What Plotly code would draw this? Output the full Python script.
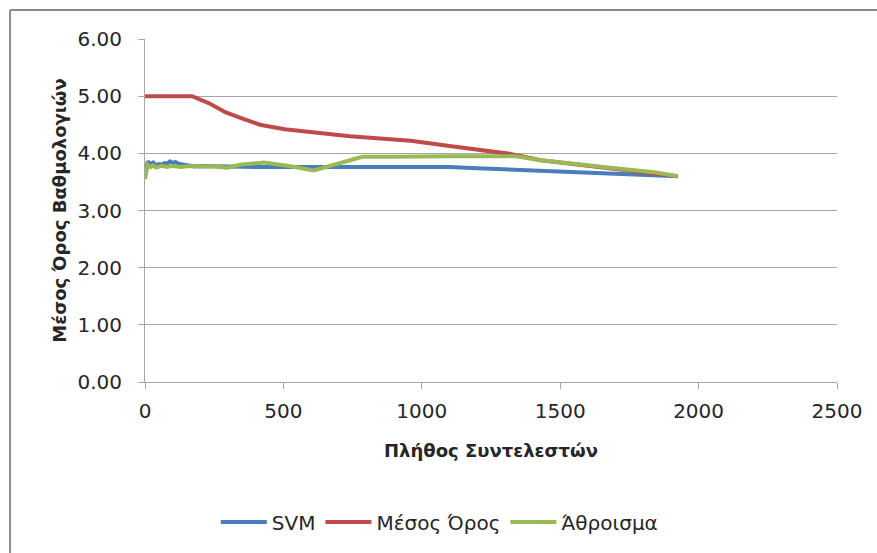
import plotly.graph_objects as go

# Number of coefficients (x) and mean score (y) for each method
svm_x = [0, 5, 10, 20, 30, 40, 50, 60, 70, 80, 90, 100, 110, 120, 140, 160, 180, 200,
         250, 300, 400, 500, 600, 700, 800, 900, 1000, 1100, 1200, 1300, 1400, 1500,
         1600, 1700, 1800, 1850, 1925]
svm_y = [3.62, 3.80, 3.86, 3.81, 3.84, 3.79, 3.81, 3.80, 3.83, 3.82, 3.86, 3.83, 3.85,
         3.82, 3.80, 3.79, 3.77, 3.78, 3.77, 3.77, 3.76, 3.76, 3.76, 3.75, 3.75, 3.75,
         3.76, 3.76, 3.74, 3.72, 3.71, 3.69, 3.66, 3.64, 3.62, 3.61, 3.60]

mean_x = [0, 170, 230, 290, 345, 415, 505, 630, 740, 850, 960, 1100, 1210, 1320,
          1430, 1570, 1715, 1840, 1925]
mean_y = [5.00, 5.00, 4.88, 4.72, 4.62, 4.50, 4.42, 4.35, 4.30, 4.26, 4.22, 4.13,
          4.06, 3.99, 3.88, 3.80, 3.73, 3.66, 3.60]

sum_x = [0, 5, 10, 20, 30, 40, 60, 80, 100, 130, 160, 200, 250, 296, 343, 430, 520,
         610, 700, 785, 900, 1000, 1100, 1200, 1340, 1430, 1570, 1715, 1840, 1925]
sum_y = [3.55, 3.72, 3.80, 3.76, 3.79, 3.75, 3.78, 3.76, 3.78, 3.76, 3.78, 3.77, 3.77,
         3.75, 3.80, 3.84, 3.78, 3.70, 3.83, 3.94, 3.94, 3.95, 3.95, 3.95, 3.95, 3.88,
         3.80, 3.73, 3.67, 3.60]

x_ticks = [0, 500, 1000, 1500, 2000, 2500]
y_ticks = [0, 1, 2, 3, 4, 5, 6]

FONT = "DejaVu Sans"
GRID = "#a6a6a6"
TEXT = "#262626"

fig = go.Figure()
fig.add_trace(go.Scatter(x=svm_x, y=svm_y, mode="lines", name="SVM",
                         line=dict(color="#4a7ebb", width=4)))
fig.add_trace(go.Scatter(x=mean_x, y=mean_y, mode="lines", name="Μέσος Όρος",
                         line=dict(color="#be4b48", width=4)))
fig.add_trace(go.Scatter(x=sum_x, y=sum_y, mode="lines", name="Άθροισμα",
                         line=dict(color="#98b954", width=4)))

fig.update_layout(
    width=877, height=553,
    margin=dict(l=145, r=40, t=39, b=171),
    paper_bgcolor="white", plot_bgcolor="white",
    font=dict(family=FONT, size=20, color=TEXT),
    showlegend=True,
    legend=dict(orientation="h", x=0.426, y=-0.408, xanchor="center", yanchor="middle",
                font=dict(size=20, color=TEXT), traceorder="normal", itemwidth=46),
    xaxis=dict(range=[0, 2500], tickvals=x_ticks, ticktext=[str(v) for v in x_ticks],
               showgrid=False, zeroline=False, showline=True, linecolor=GRID, linewidth=1,
               ticks="outside", ticklen=6, tickcolor=GRID, ticklabelstandoff=5,
               tickfont=dict(size=20),
               title=dict(text="<b>Πλήθος Συντελεστών</b>", standoff=22,
                          font=dict(size=18))),
    yaxis=dict(range=[0, 6], tickvals=y_ticks, ticktext=[f"{v:.2f}" for v in y_ticks],
               showgrid=True, gridcolor=GRID, gridwidth=1, zeroline=False,
               showline=True, linecolor=GRID, linewidth=1,
               ticks="outside", ticklen=6, tickcolor=GRID, ticklabelstandoff=12,
               tickfont=dict(size=20),
               title=dict(text="<b>Μέσος Όρος Βαθμολογιών</b>", standoff=6,
                          font=dict(size=18))),
)

# Chart frame along the top and left edges
fig.add_shape(type="line", xref="paper", yref="paper", x0=-0.195, x1=1.08, y0=1.0845,
              y1=1.0845, line=dict(color="#8c8c8c", width=2))
fig.add_shape(type="line", xref="paper", yref="paper", x0=-0.195, x1=-0.195, y0=1.0845,
              y1=-0.55, line=dict(color="#8c8c8c", width=2))

fig.write_html("out.html")
